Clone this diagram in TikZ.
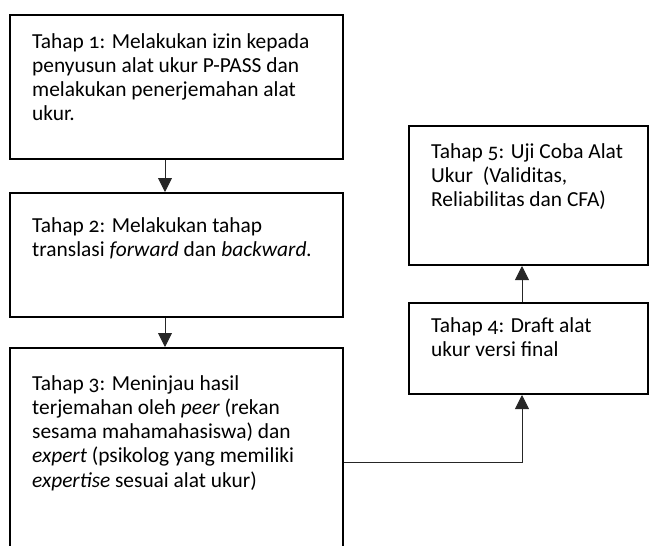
\documentclass[tikz,border=0pt]{standalone}
\usepackage{fontspec}
\setmainfont{Carlito}[Numbers=OldStyle]
\usetikzlibrary{arrows.meta}
\tikzset{
  stepbox/.style={draw=black, line width=2pt, rectangle, anchor=north west, inner sep=0pt, minimum width=#1},
  stepbox/.default=333pt,
  steptext/.style={anchor=north west, inner sep=0pt, align=left, font=\fontsize{21.4}{24.2}\selectfont},
  conn/.style={draw=black!85, line width=0.9pt, -{Triangle[width=14pt,length=14pt]}},
}
\begin{document}
\begin{tikzpicture}[x=1pt, y=-1pt]
\useasboundingbox (0,0) rectangle (649,546);
% boxes
\node[stepbox, minimum height=144pt] (b1) at (9,14) {};
\node[stepbox, minimum height=124pt] (b2) at (9,192) {};
\node[stepbox, minimum height=213pt] (b3) at (9,347) {};
\node[stepbox=239pt, minimum height=139pt] (b5) at (408,125) {};
\node[stepbox=239pt, minimum height=91pt] (b4) at (408,302) {};
% texts
\node[steptext] (t1) at (32,31.1) {\strut Tahap 1: Melakukan izin kepada\\penyusun alat ukur P-PASS dan\\melakukan penerjemahan alat\\ukur.};
\node[steptext] (t2) at (32,215.1) {\strut Tahap 2: Melakukan tahap\\translasi \textit{forward} dan \textit{backward.}};
\node[steptext] (t3) at (32,373.1) {\strut Tahap 3: Meninjau hasil\\terjemahan oleh \textit{peer} (rekan\\sesama mahamahasiswa) dan\\\textit{expert} (psikolog yang memiliki\\\textit{expertise} sesuai alat ukur)};
\node[steptext] (t5) at (431,141.1) {\strut Tahap 5: Uji Coba Alat\\Ukur \ (Validitas,\\Reliabilitas dan CFA)};
\node[steptext] (t4) at (431,315.1) {\strut Tahap 4: Draft alat\\ukur versi final};
% connectors
\coordinate (c1) at (165,0);
\coordinate (j) at (522,462);
\draw[conn] (c1 |- b1.south) -- (c1 |- b2.north);
\draw[conn] (c1 |- b2.south) -- (c1 |- b3.north);
\draw[conn] (b3.east |- j) -- (j) -- (j |- b4.south);
\draw[conn] (j |- b4.north) -- (j |- b5.south);
\end{tikzpicture}
\end{document}
